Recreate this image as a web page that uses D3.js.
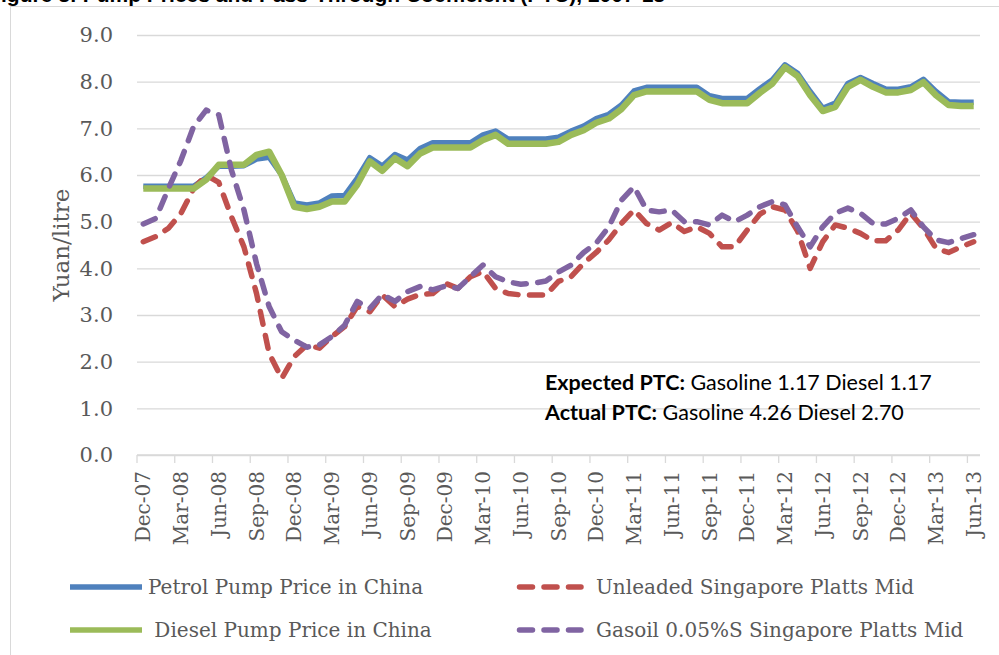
<!DOCTYPE html>
<html>
<head>
<meta charset="utf-8">
<script src="https://cdn.jsdelivr.net/npm/d3@7"></script>
<style>
  html, body { margin: 0; padding: 0; background: #fff; }
  svg { display: block; }
  .serif { font-family: "DejaVu Serif", serif; fill: #595959; }
</style>
</head>
<body>
<svg width="999" height="655"></svg>
<script>
// data (Yuan/litre), monthly Dec-07 .. Jun-13
var months = d3.timeMonth.range(new Date(2007, 11, 1), new Date(2013, 6, 1)).map(d3.timeFormat('%b-%y'));
var yTicks = [0, 1, 2, 3, 4, 5, 6, 7, 8, 9];

var petrol = [5.76, 5.76, 5.76, 5.76, 5.76, 5.94, 6.19, 6.19, 6.2, 6.34, 6.38, 6.0,
  5.4, 5.36, 5.4, 5.55, 5.56, 5.93, 6.37, 6.19, 6.44, 6.32, 6.57, 6.69,
  6.69, 6.69, 6.69, 6.86, 6.94, 6.77, 6.77, 6.77, 6.77, 6.81, 6.94, 7.05,
  7.21, 7.3, 7.5, 7.8, 7.88, 7.88, 7.88, 7.88, 7.88, 7.7, 7.64, 7.64,
  7.64, 7.85, 8.04, 8.36, 8.18, 7.79, 7.43, 7.54, 7.96, 8.09, 7.96, 7.84,
  7.84, 7.89, 8.05, 7.79, 7.57, 7.56, 7.56];
var unleaded = [4.57, 4.68, 4.86, 5.18, 5.71, 6.0, 5.84, 5.11, 4.46, 3.46, 2.18, 1.64,
  2.11, 2.36, 2.29, 2.54, 2.75, 3.18, 3.07, 3.43, 3.18, 3.34, 3.44, 3.46,
  3.68, 3.57, 3.82, 3.93, 3.57, 3.46, 3.43, 3.43, 3.43, 3.72, 3.82, 4.11,
  4.34, 4.61, 4.96, 5.25, 4.96, 4.82, 4.98, 4.79, 4.89, 4.75, 4.46, 4.46,
  4.82, 5.16, 5.32, 5.25, 4.8, 4.0, 4.57, 4.93, 4.86, 4.75, 4.59, 4.59,
  4.82, 5.18, 4.86, 4.43, 4.34, 4.46, 4.57];
var diesel = [5.71, 5.71, 5.71, 5.71, 5.71, 5.9, 6.22, 6.22, 6.22, 6.43, 6.5, 6.0,
  5.32, 5.27, 5.32, 5.43, 5.43, 5.79, 6.29, 6.09, 6.36, 6.19, 6.46, 6.59,
  6.59, 6.59, 6.59, 6.75, 6.86, 6.67, 6.67, 6.67, 6.67, 6.71, 6.86, 6.96,
  7.12, 7.21, 7.41, 7.71, 7.79, 7.79, 7.79, 7.79, 7.79, 7.61, 7.54, 7.54,
  7.54, 7.76, 7.96, 8.31, 8.12, 7.71, 7.37, 7.46, 7.89, 8.04, 7.89, 7.77,
  7.77, 7.82, 7.99, 7.71, 7.5, 7.48, 7.48];
var gasoil = [4.95, 5.07, 5.71, 6.32, 7.04, 7.39, 7.29, 6.11, 5.25, 4.1, 3.18, 2.64,
  2.46, 2.31, 2.36, 2.54, 2.78, 3.29, 3.14, 3.44, 3.29, 3.5, 3.61, 3.54,
  3.62, 3.57, 3.82, 4.07, 3.82, 3.71, 3.66, 3.68, 3.73, 3.92, 4.07, 4.34,
  4.54, 4.89, 5.46, 5.75, 5.25, 5.21, 5.25, 5.0, 5.0, 4.93, 5.14, 5.0,
  5.14, 5.32, 5.43, 5.36, 4.89, 4.46, 4.89, 5.18, 5.29, 5.18, 4.96, 4.95,
  5.07, 5.25, 4.89, 4.61, 4.55, 4.64, 4.72];

var seriesNames = ['Petrol Pump Price in China', 'Unleaded Singapore Platts Mid',
  ' Diesel Pump Price in China', 'Gasoil 0.05%S Singapore Platts Mid'];

// 0. setup
// ----------------------------------
var svg = d3.select('svg');
var series = [
  { name: seriesNames[0], values: petrol,   color: '#4f81bd', width: 5.5, dash: null },
  { name: seriesNames[1], values: unleaded, color: '#c0504d', width: 5.5, dash: '13,11.5' },
  { name: seriesNames[2], values: diesel,   color: '#9bbb59', width: 6.5, dash: null },
  { name: seriesNames[3], values: gasoil,   color: '#8064a2', width: 5.5, dash: '13,11.5' }
];

var x = d3.scaleBand().domain(months).range([137, 980]);
var y = d3.scaleLinear().domain([0, 9]).range([455, 35]);
var cx = function(m) { return x(m) + x.bandwidth() / 2; };

// frame + title (cut by the top edge, as in the source)
svg.append('rect')
  .attr('x', 10.5).attr('y', 6.5)
  .attr('width', 1000).attr('height', 700)
  .style('fill', 'none').style('stroke', '#d9d9d9');

svg.append('text')
  .attr('x', 665).attr('y', 2)
  .attr('text-anchor', 'end')
  .style('font-family', '"Liberation Sans", Arial, sans-serif')
  .style('font-weight', 'bold').style('font-size', '21px')
  .text('Figure 3: Pump Prices and Pass-Through Coefficient (PTC), 2007-13');

// 1. gridlines + y axis
// ----------------------------------
var yAxis = svg.append('g')
  .attr('transform', 'translate(137,0)')
  .call(d3.axisLeft(y).tickValues(yTicks).tickFormat(d3.format('.1f'))
    .tickSize(-843).tickPadding(24));
yAxis.select('.domain').remove();
yAxis.selectAll('line').style('stroke', '#d9d9d9').style('stroke-width', 1.3);
yAxis.selectAll('text').attr('class', 'serif').style('font-size', '21px');

svg.append('text')
  .attr('class', 'serif')
  .attr('transform', 'translate(69,245) rotate(-90)')
  .attr('text-anchor', 'middle')
  .style('font-size', '23px')
  .text('Yuan/litre');

// 2. x axis: ticks between categories, labels on every third month
// ----------------------------------
var tickMonths = months.filter(function(d, i) { return i % 3 === 0; });
var xAxis = svg.append('g').attr('transform', 'translate(0,455)');
xAxis.append('line')
  .attr('x1', x.range()[0]).attr('x2', x.range()[1])
  .style('stroke', '#d9d9d9').style('stroke-width', 1.3);
xAxis.selectAll('.tick-mark')
  .data(tickMonths).enter()
  .append('line')
  .attr('x1', function(d) { return x(d); })
  .attr('x2', function(d) { return x(d); })
  .attr('y1', 0).attr('y2', 8)
  .style('stroke', '#d9d9d9').style('stroke-width', 1.3);
xAxis.selectAll('.tick-label')
  .data(tickMonths).enter()
  .append('text')
  .attr('class', 'serif')
  .attr('transform', function(d) { return 'translate(' + cx(d) + ',16) rotate(-90)'; })
  .attr('dy', '0.36em')
  .attr('text-anchor', 'end')
  .style('font-size', '20px')
  .text(function(d) { return d; });

// 3. lines
// ----------------------------------
var line = d3.line()
  .x(function(d, i) { return cx(months[i]); })
  .y(function(d) { return y(d); });

svg.append('g').classed('lines', true)
  .selectAll('path')
  .data(series).enter()
  .append('path')
  .attr('d', function(d) { return line(d.values); })
  .style('fill', 'none')
  .style('stroke', function(d) { return d.color; })
  .style('stroke-width', function(d) { return d.width; })
  .style('stroke-dasharray', function(d) { return d.dash; })
  .style('stroke-linecap', function(d) { return d.dash ? 'round' : 'butt'; })
  .style('stroke-linejoin', 'round');

// 4. PTC note
// ----------------------------------
var note = svg.append('g')
  .style('font-family', 'Lato, "Open Sans", sans-serif')
  .style('font-size', '21.5px')
  .style('fill', '#000');
[['Expected PTC:', ' Gasoline 1.17 Diesel 1.17'],
 ['Actual PTC:', ' Gasoline 4.26 Diesel 2.70']].forEach(function(r, i) {
  var t = note.append('text').attr('x', 545).attr('y', 390 + i * 30).attr('xml:space', 'preserve');
  t.append('tspan').style('font-weight', 'bold').text(r[0]);
  t.append('tspan').text(r[1]);
});

// 5. legend
// ----------------------------------
var legend = svg.append('g').classed('legend', true);
var item = legend.selectAll('g')
  .data(series).enter()
  .append('g')
  .attr('transform', function(d, i) {
    return 'translate(' + (i % 2 ? 517 : 70) + ',' + (i < 2 ? 587 : 630) + ')';
  });
item.append('line')
  .attr('x1', function(d) { return d.dash ? 2.5 : 0; })
  .attr('x2', function(d) { return d.dash ? 64 : 72; })
  .style('stroke', function(d) { return d.color; })
  .style('stroke-width', 5.5)
  .style('stroke-dasharray', function(d) { return d.dash; })
  .style('stroke-linecap', function(d) { return d.dash ? 'round' : 'butt'; });
item.append('text')
  .attr('class', 'serif')
  .attr('x', function(d, i) { return i % 2 ? 79 : 78; })
  .attr('dy', '0.36em')
  .attr('xml:space', 'preserve')
  .style('font-size', '20px')
  .text(function(d) { return d.name; });
</script>
</body>
</html>
